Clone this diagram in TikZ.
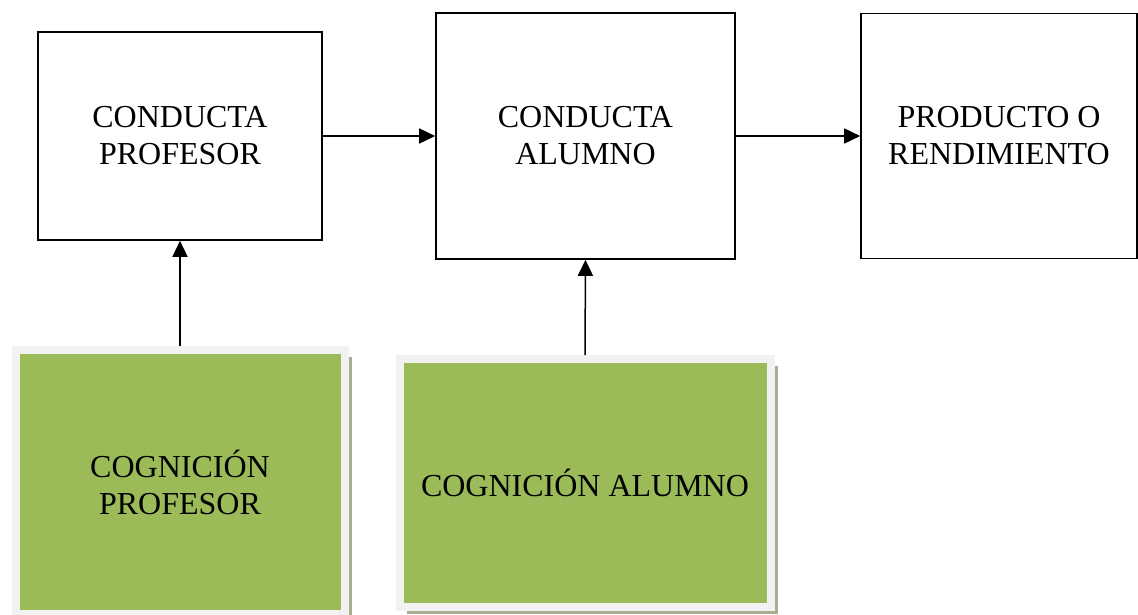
\documentclass[tikz,border=0pt]{standalone}
\usepackage{fontspec}
\setmainfont{Liberation Serif}
\usepackage{tikz}
\usetikzlibrary{arrows.meta}
\usetikzlibrary{shadows}
\definecolor{olivegreen}{HTML}{9BBB59}
\definecolor{framegray}{HTML}{F2F2F2}
\definecolor{shadowgray}{HTML}{A8AE92}
\begin{document}
\begin{tikzpicture}[x=1pt, y=-1pt]
			\tikzset{box/.style={shape = rectangle, draw, line width = 1.6pt, align = center, font = \fontsize{32}{37}\selectfont}}
			\tikzset{greenbox/.style={shape = rectangle, fill = olivegreen, draw = framegray, line width = 8pt, align = center, font = \fontsize{32}{37}\selectfont,
				drop shadow = {shadow xshift = 7pt, shadow yshift = -7pt, fill = shadowgray, opacity = 1}}}
			\tikzset{edge/.style={->, line width = 1.5pt, > = {Triangle[length = 16pt, width = 15pt]}}}
			\useasboundingbox (0, 0) rectangle (1138, 614);
			%boxes
			\node[box, minimum width = 284pt, minimum height = 208pt] (cp) at (180, 136) {CONDUCTA\\PROFESOR};
			\node[box, minimum width = 299pt, minimum height = 246pt] (ca) at (585.5, 136) {CONDUCTA\\ALUMNO};
			\node[box, minimum width = 276pt, minimum height = 245pt] (pr) at (999, 136) {PRODUCTO O\\RENDIMIENTO};
			\node[greenbox, minimum width = 329pt, minimum height = 264pt] (gp) at (180, 482) {COGNICI\'ON\\PROFESOR};
			\node[greenbox, minimum width = 371pt, minimum height = 248pt] (ga) at (585, 483) {COGNICI\'ON ALUMNO};
			%edges
			\draw[edge] (cp.east) -- (ca.west);
			\draw[edge] (ca.east) -- (ca.east -| pr.west);
			\draw[edge] (gp.north) -- (cp.south);
			\draw[edge] (ga.north) -- (ca.south);
		\end{tikzpicture}
\end{document}
